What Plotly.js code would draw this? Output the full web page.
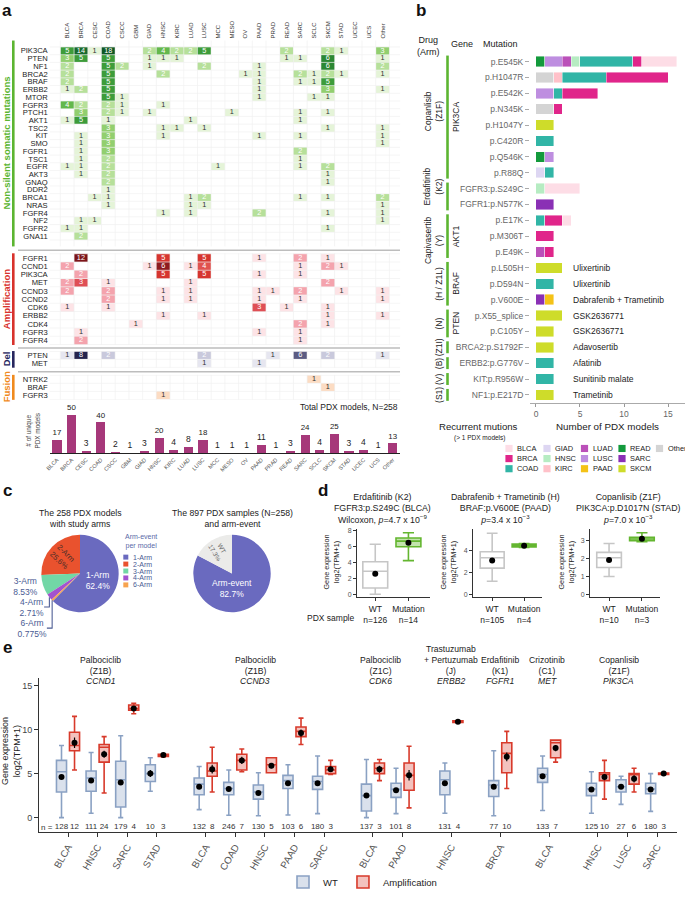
<!DOCTYPE html>
<html><head><meta charset="utf-8">
<script src="https://cdn.plot.ly/plotly-3.0.1.min.js"></script>
<style>html,body{margin:0;padding:0;background:#fff}#chart{width:685px;height:897px}</style>
</head><body><div id="chart"></div>
<script>
// ================= DATA =================
const cancerTypes = ['BLCA','BRCA','CESC','COAD','CSCC','GBM','GIAD','HNSC','KIRC','LUAD','LUSC','MCC','MESO','OV','PAAD','PRAD','READ','SARC','SCLC','SKCM','STAD','UCEC','UCS','Other'];

const mutGenes = ['PIK3CA','PTEN','NF1','BRCA2','BRAF','ERBB2','MTOR','FGFR3','PTCH1','AKT1','TSC2','KIT','SMO','FGFR1','TSC1','EGFR','AKT3','GNAQ','DDR2','BRCA1','NRAS','FGFR4','NF2','FGFR2','GNA11'];
// columns follow cancerTypes
const mutCounts = [
 [5,14,1,18,0,0,2,4,2,2,5,0,0,0,0,0,2,0,0,2,1,0,0,3],
 [3,5,0,5,0,0,1,1,1,0,0,0,0,0,0,0,1,1,0,6,0,0,0,1],
 [2,0,0,5,2,0,1,0,0,0,2,0,0,0,1,0,0,0,0,6,0,0,0,2],
 [2,0,0,5,0,0,0,2,0,0,0,0,0,1,1,0,0,2,1,2,1,0,0,1],
 [2,0,0,5,0,0,0,0,0,0,0,0,0,0,1,0,0,1,1,5,0,0,0,0],
 [1,2,0,5,0,0,0,0,0,0,0,0,0,0,1,0,0,0,0,3,0,0,0,1],
 [0,0,0,5,1,0,0,0,0,0,0,0,0,0,1,0,0,0,1,1,0,0,0,0],
 [4,2,0,2,1,0,0,1,0,0,0,0,0,0,0,0,0,0,0,0,0,0,0,0],
 [0,3,0,2,1,0,1,0,0,0,0,0,1,0,0,0,0,1,0,1,0,0,0,0],
 [1,5,0,1,0,0,0,0,0,1,0,0,0,0,0,0,0,1,0,0,0,0,0,0],
 [0,0,0,3,0,0,0,1,1,0,1,0,0,0,0,0,0,0,0,1,0,0,0,1],
 [0,1,0,3,0,0,0,1,0,0,0,0,0,0,1,0,0,1,0,0,0,0,0,1],
 [0,1,0,3,0,0,0,0,0,0,0,0,0,0,0,0,0,0,0,0,0,0,0,1],
 [0,1,0,3,0,0,0,0,0,0,0,0,0,0,0,0,0,2,0,0,0,0,0,0],
 [0,1,0,2,0,0,0,0,0,0,0,0,0,0,0,0,0,1,0,0,0,0,0,0],
 [1,1,0,2,0,0,0,0,0,0,0,1,0,0,0,0,0,1,0,2,0,0,0,0],
 [0,1,0,2,0,0,0,0,0,0,0,0,0,0,0,0,0,0,0,1,0,0,0,0],
 [0,0,0,2,0,0,0,0,0,0,0,0,0,0,0,0,0,0,0,1,0,0,0,0],
 [0,0,0,1,0,0,0,0,0,0,0,0,0,0,0,0,0,0,0,0,0,0,0,0],
 [0,0,1,1,0,0,0,0,0,1,2,0,0,0,0,0,0,1,0,1,0,0,0,2],
 [0,0,0,1,0,0,0,0,0,1,1,0,0,0,0,0,0,0,0,0,0,0,0,1],
 [0,0,0,0,0,0,0,1,0,1,0,0,0,0,2,0,0,0,0,1,0,0,0,1],
 [0,1,1,0,0,0,0,0,0,0,0,0,0,0,0,0,0,0,0,0,0,0,0,1],
 [1,1,0,0,0,0,0,0,0,0,0,0,0,0,0,0,0,0,0,1,0,0,0,0],
 [0,2,0,0,0,0,0,0,0,0,0,0,0,0,0,0,0,0,0,0,0,0,0,0]
];
const ampGenes = ['FGFR1','CCND1','PIK3CA','MET','CCND3','CCND2','CDK6','ERBB2','CDK4','FGFR3','FGFR4'];
const ampCounts = [
 [0,12,0,0,0,0,0,5,0,0,5,0,0,0,1,0,0,2,0,1,0,0,0,0],
 [2,0,0,0,0,0,1,6,0,1,4,0,0,0,0,0,0,1,0,2,1,0,0,0],
 [0,2,0,0,0,0,0,5,0,0,5,0,0,0,1,0,0,1,0,0,0,0,0,0],
 [2,3,0,1,0,0,0,0,0,1,0,0,0,0,0,0,0,0,0,2,0,0,0,0],
 [2,0,0,2,0,0,0,1,0,1,0,0,0,0,1,1,0,2,0,0,1,0,0,1],
 [0,0,0,2,0,0,0,1,0,1,0,0,0,0,1,0,0,1,0,0,0,0,0,1],
 [1,0,0,1,0,0,0,0,0,0,0,0,0,0,3,0,1,0,0,1,0,0,0,0],
 [0,0,0,0,0,0,0,1,0,0,1,0,0,0,0,0,0,0,0,1,0,0,0,1],
 [0,0,0,0,0,1,0,0,0,0,0,0,0,0,0,0,0,2,0,1,0,0,0,0],
 [0,1,0,0,0,0,0,0,0,0,0,0,0,0,1,0,0,1,0,0,0,0,0,0],
 [0,2,0,0,0,0,0,0,0,0,0,0,0,0,0,0,0,1,0,0,0,0,0,0]
];
const delGenes = ['PTEN','MET'];
const delCounts = [
 [1,8,0,2,0,0,0,0,0,0,2,0,0,0,0,1,0,6,0,2,0,0,0,1],
 [0,0,0,0,0,0,0,0,0,0,1,0,0,0,1,0,0,0,0,0,0,0,0,0]
];
const fusGenes = ['NTRK2','BRAF','FGFR3'];
const fusCounts = [
 [0,0,0,0,0,0,0,0,0,0,0,0,0,0,0,0,0,0,1,0,0,0,0,0],
 [0,0,0,0,0,0,0,0,0,0,0,0,0,0,0,0,0,0,0,1,0,0,0,0],
 [0,0,0,0,0,0,0,1,0,0,0,0,0,0,0,0,0,0,0,0,0,0,0,0]
];
const uniqueModels = [17,50,3,40,2,1,3,20,4,8,18,1,1,1,11,1,3,24,4,25,3,4,1,13];

// panel b
const recMutations = ['p.E545K','p.H1047R','p.E542K','p.N345K','p.H1047Y','p.C420R','p.Q546K','p.R88Q','FGFR3:p.S249C','FGFR1:p.N577K','p.E17K','p.M306T','p.E49K','p.L505H','p.D594N','p.V600E','p.X55_splice','p.C105Y','BRCA2:p.S1792F','ERBB2:p.G776V','KIT:p.R956W','NF1:p.E217D'];
const recOther = [0,2,0,2,0,0,0,0,0,0,0,0,0,0,0,0,0,0,0,0,0,0];
const recSKCM  = [0,0,0,0,2,0,0,0,0,0,0,0,0,3,0,0,3,2,2,0,0,2];
const recSARC  = [0,0,0,0,0,0,0,0,0,2,0,0,0,0,0,1,0,0,0,0,0,0];
const recREAD  = [1,0,0,0,0,0,1,0,0,0,0,0,0,0,0,0,0,0,0,0,0,0];
const recPAAD  = [0,0,0,0,0,0,0,0,0,0,0,0,0,0,0,1,0,0,0,0,0,0];
const recLUSC  = [2,0,2,0,0,0,1,0,0,0,0,0,0,0,0,0,0,0,0,0,0,0];
const recLUAD  = [1,0,0,0,0,0,0,0,0,0,0,0,1,0,0,0,0,0,0,0,0,0];
const recKIRC  = [0,1,0,0,0,0,0,0,0,0,0,0,0,0,0,0,0,0,0,0,0,0];
const recHNSC  = [1,0,0,0,0,0,0,0,1,0,0,0,0,0,0,0,0,0,0,0,0,0];
const recGIAD  = [0,0,0,0,0,0,0,1,0,0,0,0,0,0,0,0,0,0,0,0,0,0];
const recCOAD  = [6,5,1,0,0,2,0,1,0,0,1,0,0,0,2,0,0,0,0,2,2,0];
const recBRCA  = [1,7,4,1,0,0,0,0,0,0,2,2,1,0,0,0,0,0,0,0,0,0];
const recBLCA  = [4,0,0,0,0,0,0,0,4,0,1,0,0,0,0,0,0,0,0,0,0,0];
const recDrugRight = ['','','','','','','','','','','','','','Ulixertinib','Ulixertinib','Dabrafenib + Trametinib','GSK2636771','GSK2636771','Adavosertib','Afatinib','Sunitinib malate','Trametinib'];

// panel c
const armLabels = ['1-Arm','2-Arm','3-Arm','4-Arm','6-Arm'];
const armModels = [161,66,22,7,2];
const sampleLabels = ['Arm-event','WT'];
const sampleCounts = [742,155];

// panel d
const dN = [[126,14],[105,4],[10,3]];
const dQ1 = [[0.8,6.0],[2.4,4.35],[1.5,3.0]];
const dMed = [[2.9,6.7],[3.35,4.45],[2.05,3.1]];
const dQ3 = [[4.1,7.1],[3.9,4.6],[2.35,3.2]];
const dLo = [[0.0,4.25],[1.2,4.3],[1.0,2.95]];
const dHi = [[6.3,7.75],[5.6,4.65],[2.85,3.45]];
const dMean = [[2.6,6.5],[3.1,4.45],[1.92,3.12]];
const dSE = [[0.2,0.3],[0.15,0.1],[0.12,0.1]];

// panel e
const eDrug = ['Palbociclib<br>(Z1B)','Palbociclib<br>(Z1B)','Palbociclib<br>(Z1C)','Trastuzumab<br>+ Pertuzumab<br>(J)','Erdafitinib<br>(K1)','Crizotinib<br>(C1)','Copanlisib<br>(Z1F)'];
const eGene = ['CCND1','CCND3','CDK6','ERBB2','FGFR1','MET','PIK3CA'];
const eCancer = ['BLCA','HNSC','SARC','STAD','BLCA','COAD','HNSC','PAAD','SARC','BLCA','PAAD','HNSC','BRCA','BLCA','HNSC','LUSC','SARC'];
const eGroupOf = [0,0,0,0,1,1,1,1,1,2,2,3,4,5,6,6,6];
const eNWT  = [128,111,179,10,132,246,130,103,180,137,101,131,77,133,125,27,180];
const eNAmp = [12,24,4,3,8,7,5,6,3,3,8,4,10,7,10,6,3];
const wtQ1  = [2.9,3.0,1.2,4.1, 2.6,2.6,2.1,3.3,3.2, 0.75,2.3, 2.6, 2.4, 4.0, 2.5,2.9,2.7];
const wtMed = [5.2,4.5,4.3,5.0, 3.8,3.3,2.9,4.2,4.1, 2.5,3.2, 4.3, 3.7, 4.9, 3.25,3.5,3.25];
const wtQ3  = [6.5,5.3,6.4,6.0, 4.5,4.0,3.7,4.8,4.7, 3.8,3.9, 5.3, 4.2, 5.6, 3.9,4.3,3.9];
const wtLo  = [0.0,0.5,0.0,3.0, 0.9,0.26,0.2,0.3,0.45, 0.0,0.45, 0.5, 0.2, 0.8, 0.5,1.5,0.7];
const wtHi  = [8.2,7.4,9.3,6.8, 5.8,5.4,5.1,6.0,7.0, 6.6,5.6, 6.2, 7.6, 7.0, 5.2,4.7,5.0];
const wtMean= [4.6,4.2,4.0,5.0, 3.5,3.25,2.8,3.9,3.9, 2.5,3.1, 3.9, 3.5, 4.7, 3.2,3.5,3.2];
const wtSE  = [0.2,0.2,0.18,0.4, 0.15,0.1,0.12,0.15,0.12, 0.15,0.15, 0.15,0.2,0.15, 0.12,0.25,0.12];
const amQ1  = [7.6,6.3,12.2,6.95, 4.7,5.4,5.1,9.2,5.0, 5.0,3.1, 10.8, 5.1, 6.8, 4.2,3.8,4.9];
const amMed = [8.2,8.0,12.4,7.1, 5.3,6.5,6.0,9.8,5.4, 5.6,4.8, 10.9, 7.3, 8.5, 4.9,4.9,5.0];
const amQ3  = [9.7,8.3,12.8,7.2, 6.2,7.2,6.8,10.3,5.8, 6.2,6.2, 11.0, 8.5, 8.8, 5.1,5.0,5.05];
const amLo  = [5.4,2.8,11.8,6.9, 2.9,5.2,5.1,8.3,4.9, 4.2,1.1, 10.8, 3.3, 6.3, 2.1,2.9,4.9];
const amHi  = [11.5,9.2,13.0,7.2, 8.0,7.8,6.8,11.3,6.5, 6.6,8.1, 11.0, 9.8, 8.8, 6.5,5.6,5.1];
const amMean= [8.5,7.2,12.4,7.1, 5.5,6.5,5.9,9.6,5.5, 5.5,4.8, 10.9, 6.9, 7.9, 4.6,4.4,5.0];
const amSE  = [0.6,0.4,0.25,0.1, 0.5,0.4,0.3,0.4,0.3, 0.4,0.6, 0.1,0.5,0.35, 0.35,0.4,0.1];

// ================= HELPERS =================
const W = 685, H = 897;
const px = v => v / W, py = v => 1 - v / H;
const FONT = 'Liberation Sans, Arial, Helvetica, sans-serif';
const traces = [], shapes = [], annotations = [];
function A(x, y, text, size, color, extra) {
  annotations.push(Object.assign({xref:'paper', yref:'paper', x:px(x), y:py(y), text:text, showarrow:false,
    font:{family:FONT, size:size, color:color}, xanchor:'center', yanchor:'middle'}, extra || {}));
}
function rect(x0, y0, x1, y1, fill) {
  shapes.push({type:'rect', xref:'paper', yref:'paper', x0:px(x0), x1:px(x1), y0:py(y0), y1:py(y1),
    fillcolor:fill, line:{width:0}, layer:'above'});
}
function hline(x0, x1, y, color, w) {
  shapes.push({type:'line', xref:'paper', yref:'paper', x0:px(x0), x1:px(x1), y0:py(y), y1:py(y), line:{color:color, width:w}});
}
function vline(x, y0, y1, color, w) {
  shapes.push({type:'line', xref:'paper', yref:'paper', x0:px(x), x1:px(x), y0:py(y0), y1:py(y1), line:{color:color, width:w}});
}
function stepScale(maxV, palette) {
  const keys = Object.keys(palette).map(Number).sort((a,b)=>a-b);
  const colorOf = v => { if (v === 0) return '#ffffff'; let c = palette[keys[0]]; keys.forEach(k => { if (k <= v) c = palette[k]; }); return c; };
  const n = maxV + 1, cs = [];
  for (let v = 0; v <= maxV; v++) { cs.push([v / n, colorOf(v)]); cs.push([(v + 1) / n, colorOf(v)]); }
  return cs;
}

const layout = {
  width: W, height: H, margin: {l:0, r:0, t:0, b:0},
  paper_bgcolor: '#ffffff', plot_bgcolor: 'rgba(0,0,0,0)',
  font: {family: FONT, color: '#222'}, showlegend: true, barmode: 'stack',
  hovermode: false
};

// ================= PANEL A =================
const hmLeft = 49.7, hmRight = 400.1;
const sections = [
  {genes: mutGenes, counts: mutCounts, ax: 'y', key: 'yaxis', top: 40.85, rowH: 8.3,
   pal: {1:'#e5f4d8', 2:'#b6e09a', 3:'#92cf6f', 4:'#63b84c', 5:'#3d9c3a', 6:'#2b8733', 14:'#186a2c', 18:'#0f5823'},
   label: '<b>Non-silent somatic mutations</b>', color: '#5cb531'},
  {genes: ampGenes, counts: ampCounts, ax: 'y2', key: 'yaxis2', top: 255.3, rowH: 8.4,
   pal: {1:'#fde3e6', 2:'#f4a3ad', 3:'#df4f55', 4:'#e0524f', 5:'#d6352f', 6:'#8e1b1f', 12:'#7c1519'},
   label: '<b>Amplification</b>', color: '#d8322c'},
  {genes: delGenes, counts: delCounts, ax: 'y3', key: 'yaxis3', top: 353.8, rowH: 8.4,
   pal: {1:'#e6e6f0', 2:'#c9c9dc', 6:'#5b5b82', 8:'#24244e'},
   label: '<b>Del</b>', color: '#26265e'},
  {genes: fusGenes, counts: fusCounts, ax: 'y4', key: 'yaxis4', top: 377.8, rowH: 8.4,
   pal: {1:'#fcdcc3'},
   label: '<b>Fusion</b>', color: '#f08a1e'}
];
const gridColor = '#f0f0f0';
sections.forEach(s => {
  const bottom = s.top + s.rowH * s.genes.length;
  let maxV = 1; s.counts.forEach(r => r.forEach(v => { if (v > maxV) maxV = v; }));
  const zShown = s.counts.map(r => r.map(v => (v > 0 ? v : null)));
  traces.push({type:'heatmap', x: cancerTypes, y: s.genes, z: zShown, xaxis:'x', yaxis: s.ax,
    colorscale: stepScale(maxV, s.pal), zmin: -0.5, zmax: maxV + 0.5, showscale: false, hoverinfo: 'skip'});
  const tx = [], ty = [], tt = [], tc = [];
  s.counts.forEach((row, i) => row.forEach((v, j) => {
    if (v > 0) { tx.push(cancerTypes[j]); ty.push(s.genes[i]); tt.push(String(v)); tc.push(v >= 2 ? '#ffffff' : '#333333'); }
  }));
  traces.push({type:'scatter', mode:'text', x: tx, y: ty, text: tt, xaxis:'x', yaxis: s.ax,
    textfont: {family: FONT, size: 7.3, color: tc}, showlegend: false, hoverinfo: 'skip', cliponaxis: false});
  layout[s.key] = {domain: [py(bottom), py(s.top)], type: 'category', categoryarray: s.genes, categoryorder: 'array',
    autorange: 'reversed', anchor: 'x', tickmode: 'array', tickvals: s.genes, ticktext: s.genes,
    tickfont: {size: 7.6, color: '#222'}, ticks: '', showgrid: false,
    zeroline: false, showline: false, ticklabelstandoff: 1};
  for (let j = 0; j <= cancerTypes.length; j++) {
    shapes.push({type:'line', xref:'x', yref:'paper', x0: j - 0.5, x1: j - 0.5, y0: py(bottom), y1: py(s.top),
      line: {color: gridColor, width: 0.7}, layer: 'above'});
  }
  for (let i = 0; i <= s.genes.length; i++) {
    shapes.push({type:'line', xref:'paper', yref: s.ax, x0: px(hmLeft), x1: px(hmRight), y0: i - 0.5, y1: i - 0.5,
      line: {color: gridColor, width: 0.7}, layer: 'above'});
  }
  vline(13.3, s.top, bottom, s.color, 2.6);
  A(6, (s.top + bottom) / 2, s.label, 9.5, s.color, {textangle: -90});
});
hline(18, 400, 252.3, '#bdbdbd', 1.5);
hline(18, 400, 350.7, '#bdbdbd', 1.5);
hline(18, 400, 374.6, '#bdbdbd', 1.5);

layout.xaxis = {domain: [px(hmLeft), px(hmRight)], type: 'category', categoryarray: cancerTypes, categoryorder: 'array',
  side: 'top', anchor: 'y', tickmode: 'array', tickvals: cancerTypes, ticktext: cancerTypes,
  tickangle: -90, tickfont: {size: 6, color: '#333'}, ticks: '', showgrid: false,
  zeroline: false, showline: false, ticklabelstandoff: 1};

traces.push({type:'bar', x: cancerTypes, y: uniqueModels, xaxis:'x2', yaxis:'y5', width: 0.62,
  marker: {color: '#a6387a'}, text: uniqueModels.map(String), textposition: 'outside',
  textfont: {family: FONT, size: 8.5, color: '#222'}, cliponaxis: false, showlegend: false, hoverinfo: 'skip'});
layout.xaxis2 = {domain: [px(hmLeft), px(hmRight)], type: 'category', categoryarray: cancerTypes, categoryorder: 'array',
  anchor: 'y5', tickmode: 'array', tickvals: cancerTypes, ticktext: cancerTypes,
  tickangle: -45, tickfont: {size: 5.6, color: '#555'}, ticks: '', showline: true, linecolor: '#222',
  linewidth: 1, showgrid: false, zeroline: false};
layout.yaxis5 = {domain: [py(457), py(418)], range: [0, 50], anchor: 'x2', visible: false};
A(33, 434, '# of unique<br>PDX models', 6.4, '#444', {textangle: -90});
A(400, 410, 'Total PDX models, N=258', 8.5, '#222', {xanchor: 'right'});

// ================= PANEL B =================
const stackOrder = ['Other','SKCM','SARC','READ','PAAD','LUSC','LUAD','KIRC','HNSC','GIAD','COAD','BRCA','BLCA'];
const recData = {Other: recOther, SKCM: recSKCM, SARC: recSARC, READ: recREAD, PAAD: recPAAD, LUSC: recLUSC,
  LUAD: recLUAD, KIRC: recKIRC, HNSC: recHNSC, GIAD: recGIAD, COAD: recCOAD, BRCA: recBRCA, BLCA: recBLCA};
const typeColor = {BLCA:'#fddde6', BRCA:'#e0258a', COAD:'#31b5a6', GIAD:'#ddd6f2', HNSC:'#b6ecc2', KIRC:'#ffc1c9',
  LUAD:'#bb50b9', LUSC:'#be8ee0', PAAD:'#f4c217', READ:'#139a3c', SARC:'#8a30b5', SKCM:'#cedc2a', Other:'#d4d4d4'};
stackOrder.forEach(t => {
  traces.push({type:'bar', orientation:'h', y: recMutations, x: recData[t].map(v => v || null), xaxis:'x3', yaxis:'y6',
    width: 0.66, marker: {color: typeColor[t], line: {color: 'rgba(255,255,255,0.7)', width: 0.6}},
    showlegend: false, hoverinfo: 'skip', name: t});
});
layout.xaxis3 = {domain: [px(530), 1], range: [-0.68, 16.93], anchor: 'y6', tickvals: [0,5,10,15], ticks: 'outside',
  ticklen: 3, tickcolor: '#999', tickfont: {size: 8.5, color: '#666'}, showline: true, linecolor: '#aaa', linewidth: 1,
  showgrid: false, zeroline: false,
  title: {text: 'Number of PDX models', font: {size: 9.8, color: '#222'}, standoff: 5}};
layout.yaxis6 = {domain: [py(406), py(54)], type: 'category', categoryarray: recMutations, categoryorder: 'array',
  autorange: 'reversed', anchor: 'x3', tickmode: 'array', tickvals: recMutations, ticktext: recMutations,
  tickfont: {size: 8.5, color: '#666'}, ticks: 'outside', ticklen: 4,
  tickcolor: '#aaa', showline: false, showgrid: false, zeroline: false};
recDrugRight.forEach((d, i) => {
  if (d) annotations.push({xref:'x3', yref:'y6', x: 3.95, y: recMutations[i], text: d, showarrow: false,
    xanchor: 'left', yanchor: 'middle', font: {family: FONT, size: 8.5, color: '#222'}});
});
const bGroups = [
  {a:0, b:7, drug:'Copanlisib<br>(Z1F)', gene:'PIK3CA', dy:-6},
  {a:8, b:9, drug:'Erdafitinib<br>(K2)', gene:'', dy:-10},
  {a:10, b:12, drug:'Capivasertib<br>(Y)', gene:'AKT1', dy:4},
  {a:13, b:15, drug:'(H / Z1L)', gene:'BRAF', dy:0},
  {a:16, b:17, drug:'(N)', gene:'PTEN', dy:0},
  {a:18, b:18, drug:'(Z1I)', gene:'', dy:0},
  {a:19, b:19, drug:'(B)', gene:'', dy:0},
  {a:20, b:20, drug:'(V)', gene:'', dy:0},
  {a:21, b:21, drug:'(S1)', gene:'', dy:0}
];
const rowY = i => 54 + 16 * (i + 0.5);
bGroups.forEach(g => {
  const yc = (rowY(g.a) + rowY(g.b)) / 2;
  const two = g.drug.indexOf('<br>') >= 0;
  A(two ? 433 : 439, yc + g.dy, g.drug, 8.5, '#222', {textangle: -90});
  if (g.gene) A(456, yc, g.gene, 8.5, '#222', {textangle: -90});
  vline(447.5, rowY(g.a) - 6, rowY(g.b) + 6, '#5cb531', 2.6);
});
A(428, 46, 'Drug<br>(Arm)', 9, '#222');
A(462, 44, 'Gene', 9, '#222');
A(500, 44, 'Mutation', 9, '#222');
A(478.5, 430, 'Recurrent mutions', 9.6, '#222');
A(479, 441, '(> 1 PDX models)', 6.5, '#222');
const legOrder = ['BLCA','BRCA','COAD','GIAD','HNSC','KIRC','LUAD','LUSC','PAAD','READ','SARC','SKCM','Other'];
const legColX = [509, 547, 584.5, 622, 659.5];
legOrder.forEach((t, i) => {
  const cx = legColX[Math.floor(i / 3)], cy = 452 + 10.2 * (i % 3);
  rect(cx - 3.6, cy - 3.6, cx + 3.6, cy + 3.6, typeColor[t]);
  A(cx + 6, cy, t, 7.4, '#222', {xanchor: 'left'});
});

// ================= PANEL C =================
const armColors = ['#6a6abf','#e9522e','#72d7a6','#a352cf','#f7a34f'];
const pie1Dom = {x: [px(41), px(119)], y: [py(617), py(539)]};
traces.push({type:'pie', labels: armLabels, values: armModels, sort: false, direction: 'counterclockwise', rotation: 0,
  domain: pie1Dom, marker: {colors: armColors, line: {width: 0}},
  texttemplate: armLabels.map((l, i) => (i === 1 ? '' : '%{label}<br>%{percent}')),
  textposition: ['inside','inside','outside','outside','outside'], insidetextorientation: 'horizontal',
  insidetextfont: {family: FONT, size: 8.5, color: '#ffffff'}, outsidetextfont: {family: FONT, size: 8.5, color: '#4a5b93'},
  showlegend: false, hoverinfo: 'skip'});
traces.push({type:'pie', labels: armLabels, values: armModels, sort: false, direction: 'counterclockwise', rotation: 0,
  domain: pie1Dom, marker: {colors: armLabels.map(() => 'rgba(0,0,0,0)'), line: {width: 0}},
  texttemplate: armLabels.map((l, i) => (i === 1 ? '%{label}<br>%{percent}' : '')),
  textposition: 'inside', insidetextorientation: 'radial',
  insidetextfont: {family: FONT, size: 8.5, color: '#4a2d28'}, showlegend: false, hoverinfo: 'skip'});
const pie2Dom = {x: [px(193), px(271)], y: [py(617), py(539)]};
const sampleColors = ['#6a6abf','#ebebe9'];
traces.push({type:'pie', labels: sampleLabels, values: sampleCounts, sort: false, direction: 'counterclockwise', rotation: 0,
  domain: pie2Dom, marker: {colors: sampleColors, line: {width: 0}},
  texttemplate: ['%{label}<br>%{percent}', ''], textposition: 'inside', insidetextorientation: 'horizontal',
  insidetextfont: {family: FONT, size: 8.5, color: '#ffffff'}, showlegend: false, hoverinfo: 'skip'});
traces.push({type:'pie', labels: sampleLabels, values: sampleCounts, sort: false, direction: 'counterclockwise', rotation: 0,
  domain: pie2Dom, marker: {colors: ['rgba(0,0,0,0)','rgba(0,0,0,0)'], line: {width: 0}},
  texttemplate: ['', '%{label}<br>%{percent}'], textposition: 'inside', insidetextorientation: 'radial',
  insidetextfont: {family: FONT, size: 8.5, color: '#666'}, showlegend: false, hoverinfo: 'skip'});
A(80, 523, 'The 258 PDX models<br>with study arms', 8.7, '#222');
A(232, 523, 'The 897 PDX samples (N=258)<br>and arm-event', 8.7, '#222');
A(123, 546, 'Arm-event<br>per model', 7, '#5a6aa8', {xanchor: 'left'});
armLabels.forEach((l, i) => {
  const cy = 561.5 + 7 * i;
  rect(123.3, cy - 2.5, 128.3, cy + 2.5, armColors[i]);
  A(131, cy, l, 7, '#4a5b93', {xanchor: 'left'});
});

// ================= PANEL D =================
const dAxes = [
  {xk:'xaxis4', yk:'yaxis7', xa:'x4', ya:'y7', x0:357, x1:430, xr:[-0.55,1.65], yr:[-0.375,8.25], yt:[0,2,4,6,8], title:'Erdafitinib (K2)<br>FGFR3:p.S249C (BLCA)<br>Wilcoxon, <i>p</i>=4.7 x 10<sup>−9</sup>', tx:382, ytx:331},
  {xk:'xaxis5', yk:'yaxis8', xa:'x5', ya:'y8', x0:473, x1:542, xr:[-0.6,1.56], yr:[-0.27,6.0], yt:[0,2,4], title:'Dabrafenib + Trametinib (H)<br>BRAF:p.V600E (PAAD)<br><i>p</i>=3.4 x 10<sup>−3</sup>', tx:505, ytx:448},
  {xk:'xaxis6', yk:'yaxis9', xa:'x6', ya:'y9', x0:590, x1:660, xr:[-0.58,1.55], yr:[-0.17,3.67], yt:[0,1,2,3], title:'Copanlisib (Z1F)<br>PIK3CA:p.D1017N (STAD)<br><i>p</i>=7.0 x 10<sup>−3</sup>', tx:628, ytx:566}
];
dAxes.forEach((a, k) => {
  layout[a.xk] = {domain: [px(a.x0), px(a.x1)], range: a.xr, anchor: a.ya, tickvals: [0,1],
    ticktext: ['WT<br>n=' + dN[k][0], 'Mutation<br>n=' + dN[k][1]], ticks: 'outside', ticklen: 3, tickcolor: '#333',
    tickfont: {size: 8.5, color: '#222'}, showline: true, linecolor: '#333', linewidth: 1, showgrid: false, zeroline: false};
  layout[a.yk] = {domain: [py(602), py(533)], range: a.yr, anchor: a.xa, tickvals: a.yt, ticks: 'outside', ticklen: 3,
    tickcolor: '#333', tickfont: {size: 7, color: '#555'}, showline: true, linecolor: '#333', linewidth: 1,
    showgrid: false, zeroline: false};
  const cols = [{line:'#c6c6c6', fill:'#ffffff'}, {line:'#64b630', fill:'rgba(120,196,70,0.45)'}];
  [0,1].forEach(j => {
    traces.push({type:'box', x:[j], q1:[dQ1[k][j]], median:[dMed[k][j]], q3:[dQ3[k][j]], lowerfence:[dLo[k][j]],
      upperfence:[dHi[k][j]], xaxis: a.xa, yaxis: a.ya, width: 0.75, whiskerwidth: 0.45, boxpoints: false,
      line: {color: cols[j].line, width: 1.6}, fillcolor: cols[j].fill, showlegend: false, hoverinfo: 'skip'});
  });
  traces.push({type:'scatter', mode:'markers', x:[0,1], y: dMean[k], xaxis: a.xa, yaxis: a.ya,
    marker: {color: '#000', size: 6}, error_y: {type: 'data', array: dSE[k], color: '#000', thickness: 1.2, width: 0},
    showlegend: false, hoverinfo: 'skip', cliponaxis: false});
  A(a.tx, 513, a.title, 8.8, '#222');
  A(a.ytx, 567, 'Gene expression<br>log2(TPM+1)', 7.3, '#222', {textangle: -90});
});
A(305, 623, 'PDX sample', 8.5, '#222', {xanchor: 'left'});

// ================= PANEL E =================
const ePos = [];
eCancer.forEach((c, i) => {
  if (i === 0) ePos.push(0);
  else ePos.push(ePos[i - 1] + (eGroupOf[i] !== eGroupOf[i - 1] ? 1.65 : 1));
});
const off = 0.22;
const wtX = ePos.map(p => p - off), amX = ePos.map(p => p + off);
traces.push({type:'box', name:'WT', x: wtX, q1: wtQ1, median: wtMed, q3: wtQ3, lowerfence: wtLo, upperfence: wtHi,
  xaxis:'x7', yaxis:'y10', width: 0.34, whiskerwidth: 0.5, boxpoints: false,
  line: {color: '#8aa1c3', width: 1.6}, fillcolor: 'rgba(150,170,200,0.35)', hoverinfo: 'skip'});
traces.push({type:'box', name:'Amplification', x: amX, q1: amQ1, median: amMed, q3: amQ3, lowerfence: amLo, upperfence: amHi,
  xaxis:'x7', yaxis:'y10', width: 0.34, whiskerwidth: 0.5, boxpoints: false,
  line: {color: '#d83a2b', width: 1.6}, fillcolor: 'rgba(220,80,70,0.35)', hoverinfo: 'skip'});
traces.push({type:'scatter', mode:'markers', x: wtX.concat(amX), y: wtMean.concat(amMean), xaxis:'x7', yaxis:'y10',
  marker: {color: '#000', size: 6}, error_y: {type: 'data', array: wtSE.concat(amSE), color: '#000', thickness: 1.2, width: 0},
  showlegend: false, hoverinfo: 'skip', cliponaxis: false});
traces.push({type:'scatter', mode:'text', x: wtX.concat(amX), y: ePos.map(() => -1.1).concat(ePos.map(() => -1.1)),
  text: eNWT.map(String).concat(eNAmp.map(String)), xaxis:'x7', yaxis:'y10',
  textfont: {family: FONT, size: 8, color: '#333'}, showlegend: false, hoverinfo: 'skip', cliponaxis: false});
annotations.push({xref:'x7', yref:'y10', x: -0.44, y: -1.1, text: 'n =', showarrow: false, xanchor: 'right',
  yanchor: 'middle', font: {family: FONT, size: 8, color: '#333'}});
layout.xaxis7 = {domain: [px(39), px(677)], range: [-0.98, 20.57], anchor: 'y10', tickvals: ePos, ticktext: eCancer,
  tickangle: -60, tickfont: {size: 9.8, color: '#555'}, ticks: 'outside', ticklen: 4, tickcolor: '#333',
  showline: true, linecolor: '#333', linewidth: 1, showgrid: false, zeroline: false};
layout.yaxis10 = {domain: [py(839), py(683)], range: [-1.69, 15.9], anchor: 'x7', tickvals: [0,5,10,15],
  ticks: 'outside', ticklen: 4, tickcolor: '#333', tickfont: {size: 9, color: '#444'}, showline: true,
  linecolor: '#333', linewidth: 1, showgrid: false, zeroline: false};
A(11, 757, 'Gene expression<br>log2(TPM+1)', 9, '#222', {textangle: -90});
const eTitleShift = [-0.4, -0.33, -0.24, 0, 0, -0.07, -0.3];
eDrug.forEach((d, g) => {
  const idx = eGroupOf.map((v, i) => v === g ? i : -1).filter(i => i >= 0);
  const c = (ePos[idx[0]] + ePos[idx[idx.length - 1]]) / 2 + eTitleShift[g];
  annotations.push({xref:'x7', yref:'paper', x: c, y: py(683.5), text: d, showarrow: false, xanchor: 'center',
    yanchor: 'bottom', font: {family: FONT, size: 8.6, color: '#222'}});
  annotations.push({xref:'x7', yref:'paper', x: c, y: py(686), text: '<i>' + eGene[g] + '</i>', showarrow: false,
    xanchor: 'center', yanchor: 'middle', font: {family: FONT, size: 8.6, color: '#222'}});
});
layout.legend = {orientation: 'h', x: px(283), y: py(889), xanchor: 'left', yanchor: 'middle', traceorder: 'normal',
  font: {family: FONT, size: 9.5, color: '#222'}, bgcolor: 'rgba(0,0,0,0)', itemwidth: 30, tracegroupgap: 0};

// ================= PANEL LETTERS =================
A(7, 11, '<b>a</b>', 17, '#111');
A(421, 11, '<b>b</b>', 17, '#111');
A(7, 494, '<b>c</b>', 17, '#111');
A(323, 494, '<b>d</b>', 17, '#111');
A(7, 653, '<b>e</b>', 17, '#111');

layout.shapes = shapes;
layout.annotations = annotations;
Plotly.newPlot('chart', traces, layout, {displayModeBar: false, staticPlot: true});
</script>
</body></html>
